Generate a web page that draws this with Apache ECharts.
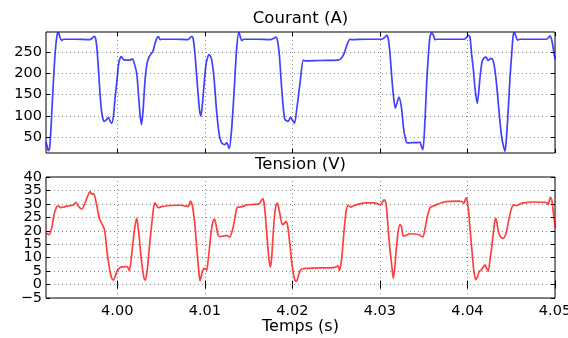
<!DOCTYPE html>
<html><head><meta charset="utf-8">
<script src="https://cdn.jsdelivr.net/npm/echarts@6/dist/echarts.min.js"></script>
<style>html,body{margin:0;padding:0;background:#fff}#c{width:568px;height:338px}</style>
</head><body><div id="c"></div>
<script>
// Courant (A): [temps (s), courant (A)]
const courant = [[3.99186,38],[3.99197,30],[3.99212,18],[3.99226,22],[3.99243,70],[3.99260,140],[3.99280,215],[3.99300,270],[3.99317,294],[3.99328,296],[3.99345,285],[3.99363,277],[3.99385,280],[3.99517,280],[3.99688,279],[3.99711,282],[3.99734,287],[3.99751,283],[3.99768,258],[3.99785,210],[3.99802,155],[3.99820,112],[3.99837,92],[3.99854,87],[3.99877,91],[3.99899,96],[3.99917,88],[3.99936,82],[3.99957,100],[3.99974,140],[3.99993,176],[4.00014,220],[4.00031,235],[4.00048,239],[4.00065,233],[4.00088,231],[4.00145,231],[4.00174,234],[4.00196,222],[4.00222,200],[4.00242,150],[4.00259,105],[4.00276,79],[4.00294,110],[4.00316,180],[4.00339,222],[4.00362,238],[4.00385,245],[4.00408,252],[4.00431,270],[4.00453,283],[4.00471,286],[4.00488,279],[4.00511,280],[4.00659,280],[4.00808,279],[4.00830,283],[4.00850,287],[4.00868,280],[4.00888,244],[4.00918,165],[4.00939,115],[4.00956,99],[4.00982,150],[4.01013,220],[4.01036,240],[4.01051,244],[4.01078,232],[4.01105,189],[4.01135,110],[4.01165,55],[4.01193,36],[4.01230,32],[4.01250,37],[4.01279,23],[4.01307,71],[4.01337,165],[4.01364,259],[4.01390,297],[4.01421,277],[4.01447,280],[4.01607,280],[4.01744,279],[4.01779,281],[4.01813,285],[4.01832,275],[4.01851,244],[4.01878,165],[4.01898,115],[4.01916,91],[4.01953,87],[4.01981,96],[4.02001,90],[4.02024,82],[4.02053,120],[4.02087,176],[4.02125,231],[4.02144,229],[4.02315,230],[4.02521,231],[4.02555,234],[4.02590,246],[4.02630,270],[4.02658,280],[4.02681,279],[4.02830,280],[4.03024,280],[4.03058,285],[4.03081,289],[4.03098,278],[4.03115,247],[4.03134,195],[4.03153,150],[4.03176,118],[4.03195,130],[4.03218,144],[4.03249,115],[4.03269,72],[4.03290,48],[4.03313,36],[4.03366,37],[4.03438,37],[4.03458,38],[4.03475,28],[4.03492,20],[4.03515,90],[4.03534,176],[4.03553,240],[4.03572,286],[4.03591,295],[4.03610,290],[4.03629,279],[4.03652,280],[4.03800,280],[4.03960,280],[4.03989,284],[4.04012,289],[4.04029,285],[4.04048,244],[4.04067,210],[4.04086,165],[4.04112,129],[4.04143,189],[4.04166,226],[4.04189,236],[4.04212,238],[4.04238,230],[4.04269,235],[4.04292,230],[4.04314,208],[4.04337,165],[4.04354,125],[4.04372,85],[4.04391,50],[4.04412,28],[4.04429,16],[4.04446,50],[4.04466,115],[4.04486,190],[4.04505,244],[4.04520,285],[4.04535,296],[4.04554,287],[4.04572,278],[4.04600,280],[4.04771,280],[4.04905,280],[4.04926,284],[4.04946,288],[4.04969,272],[4.04986,250],[4.05003,233]];

// Tension (V): [temps (s), tension (V)]
const tension = [[3.99186,19.2],[3.99220,18.6],[3.99251,21],[3.99277,25.9],[3.99308,29.0],[3.99326,29.2],[3.99353,28.6],[3.99403,29.0],[3.99497,29.6],[3.99528,30.6],[3.99554,29.2],[3.99593,28.1],[3.99623,29.6],[3.99648,31.8],[3.99669,33.4],[3.99688,34.6],[3.99708,33.6],[3.99726,33.8],[3.99745,32.6],[3.99772,28.4],[3.99797,24.5],[3.99822,22.8],[3.99848,21],[3.99865,18],[3.99882,12.5],[3.99899,8.5],[3.99917,5],[3.99934,2.6],[3.99954,1.6],[3.99974,2.8],[3.99991,4.5],[4.00014,5.8],[4.00042,6.5],[4.00088,6.6],[4.00114,6.7],[4.00137,5.2],[4.00156,8.5],[4.00176,14.7],[4.00199,21],[4.00222,24.7],[4.00236,22],[4.00254,16.5],[4.00271,10.5],[4.00290,5.5],[4.00305,2.5],[4.00320,1.6],[4.00339,4.5],[4.00356,10],[4.00374,16.5],[4.00393,22.2],[4.00411,27.5],[4.00427,30.4],[4.00448,29.5],[4.00468,28.6],[4.00507,29.0],[4.00602,29.4],[4.00716,29.5],[4.00793,29.2],[4.00811,29.0],[4.00834,31.0],[4.00857,29.5],[4.00873,26],[4.00888,22],[4.00902,16],[4.00916,10.5],[4.00931,5],[4.00945,1.4],[4.00956,2.5],[4.00971,4.8],[4.00994,6.0],[4.01021,5.4],[4.01036,8.5],[4.01053,13.5],[4.01070,19],[4.01087,22.5],[4.01110,24.3],[4.01127,22.5],[4.01150,18.5],[4.01173,17.8],[4.01207,18.0],[4.01250,18.3],[4.01282,17.6],[4.01305,19],[4.01325,21.5],[4.01345,25],[4.01364,28.4],[4.01384,28.8],[4.01424,29.0],[4.01478,29.6],[4.01550,29.8],[4.01611,29.9],[4.01630,30.3],[4.01661,32.0],[4.01676,30.5],[4.01689,26.5],[4.01704,20.5],[4.01721,13.5],[4.01736,8.5],[4.01750,6.5],[4.01764,10],[4.01779,18],[4.01796,25.5],[4.01813,29.5],[4.01828,30.3],[4.01844,28.5],[4.01862,25.5],[4.01887,22.3],[4.01910,22.8],[4.01929,23.5],[4.01948,21.5],[4.01965,17],[4.01981,12],[4.01998,7],[4.02015,3.5],[4.02036,1.3],[4.02053,1.4],[4.02070,3.5],[4.02093,5.4],[4.02121,5.9],[4.02155,6.0],[4.02315,6.2],[4.02467,6.3],[4.02504,6.6],[4.02521,7.0],[4.02538,5.3],[4.02555,7.5],[4.02570,12],[4.02584,17.5],[4.02601,23.5],[4.02618,28],[4.02639,29.5],[4.02664,28.8],[4.02692,29.2],[4.02753,29.9],[4.02849,30.4],[4.02924,30.4],[4.02978,30.0],[4.03007,29.7],[4.03027,30.5],[4.03047,31.5],[4.03064,30.8],[4.03077,28.3],[4.03096,20],[4.03115,13],[4.03134,7.5],[4.03153,2.3],[4.03169,6],[4.03187,13],[4.03207,19.5],[4.03229,22.3],[4.03247,21.5],[4.03267,18.0],[4.03306,18.4],[4.03344,18.9],[4.03401,18.8],[4.03446,18.5],[4.03489,17.7],[4.03511,20],[4.03534,24],[4.03555,27],[4.03578,28.8],[4.03618,29.3],[4.03663,29.9],[4.03724,30.6],[4.03800,30.9],[4.03892,31.0],[4.03943,30.8],[4.03958,30.2],[4.03974,31.5],[4.03987,32.2],[4.04000,30.5],[4.04014,27],[4.04029,21],[4.04048,14],[4.04065,7.5],[4.04080,3.5],[4.04097,1.8],[4.04115,3.0],[4.04135,4.8],[4.04160,5.5],[4.04181,6.5],[4.04200,7.3],[4.04217,6.2],[4.04238,4.9],[4.04257,9],[4.04277,14],[4.04297,19.5],[4.04320,24.6],[4.04337,23],[4.04354,19.5],[4.04377,17.8],[4.04406,17.2],[4.04429,18],[4.04448,20],[4.04469,23.5],[4.04486,26.2],[4.04505,28.5],[4.04524,29.6],[4.04562,29.4],[4.04620,30.3],[4.04691,30.6],[4.04771,30.7],[4.04905,30.5],[4.04923,29.7],[4.04946,32.4],[4.04962,31.6],[4.04980,27],[4.05003,21]];

const xTicks = [4.00, 4.01, 4.02, 4.03, 4.04, 4.05];
const courantTicks = [50, 100, 150, 200, 250];
const tensionTicks = [-5, 0, 5, 10, 15, 20, 25, 30, 35, 40];
const titleCourant = 'Courant (A)';
const titleTension = 'Tension (V)';
const xLabel = 'Temps (s)';
const xRange = [3.99186, 4.05];
const courantRange = [12.4, 297];
const tensionRange = [-5, 40];

const FONT = 'DejaVu Sans';
const GRID_LEFT = 46, GRID_W = 509;
const tickStyle = { inside: true, length: 4, lineStyle: { color: '#000', width: 1 } };
const gridLine = { show: true, lineStyle: { color: '#666', width: 1, type: [1, 3], opacity: 0.8 } };
const minus = v => String(v).replace('-', '\u2212');

function xAx(grid, pos, labels) {
  return {
    type: 'value', gridIndex: grid, position: pos, min: xRange[0], max: xRange[1],
    axisLine: { show: false },
    axisTick: Object.assign({ customValues: xTicks }, tickStyle),
    axisLabel: { show: labels, customValues: xTicks, formatter: v => v.toFixed(2), color: '#000',
      fontFamily: FONT, fontSize: 14.5, margin: 6, hideOverlap: false, showMinLabel: true, showMaxLabel: true },
    splitLine: pos === 'bottom' ? gridLine : { show: false }
  };
}
// ticks: where tick marks/grid lines go; labels: which of them carry a label on this axis
function yAx(grid, pos, range, ticks, labels, showTicks) {
  return {
    type: 'value', gridIndex: grid, position: pos, offset: 0, min: range[0], max: range[1],
    axisLine: { show: false },
    axisTick: Object.assign({ show: showTicks, customValues: ticks }, tickStyle),
    axisLabel: { show: !!labels, customValues: labels || ticks, formatter: minus, color: '#000',
      fontFamily: FONT, fontSize: 14.5, margin: 4, hideOverlap: false, showMinLabel: true, showMaxLabel: true },
    splitLine: (pos === 'left' && showTicks) ? gridLine : { show: false }
  };
}
const tensionEven = tensionTicks.filter((v, i) => i % 2 === 0);
const tensionOdd = tensionTicks.filter((v, i) => i % 2 === 1);

const chart = echarts.init(document.getElementById('c'), null, { renderer: 'canvas' });
chart.setOption({
  animation: false,
  backgroundColor: '#fff',
  grid: [
    { left: GRID_LEFT, top: 32, width: GRID_W, height: 121, show: true, borderColor: '#000', borderWidth: 1, outerBoundsMode: 'none' },
    { left: GRID_LEFT, top: 177, width: GRID_W, height: 121, show: true, borderColor: '#000', borderWidth: 1, outerBoundsMode: 'none' }
  ],
  xAxis: [xAx(0, 'bottom', false), xAx(0, 'top', false), xAx(1, 'bottom', true), xAx(1, 'top', false)],
  yAxis: [
    yAx(0, 'left', courantRange, courantTicks, courantTicks, true),
    yAx(0, 'right', courantRange, courantTicks, null, true),
    yAx(1, 'left', tensionRange, tensionTicks, tensionEven, true),
    yAx(1, 'right', tensionRange, tensionTicks, null, true),
    yAx(1, 'left', tensionRange, tensionTicks, tensionOdd, false)
  ],
  series: [
    { type: 'line', xAxisIndex: 0, yAxisIndex: 0, data: courant, showSymbol: false, smooth: 0.25,
      lineStyle: { color: 'rgba(0,0,255,0.75)', width: 1.7 }, z: 3 },
    { type: 'line', xAxisIndex: 2, yAxisIndex: 2, data: tension, showSymbol: false, smooth: 0.25,
      lineStyle: { color: 'rgba(255,0,0,0.75)', width: 1.7 }, z: 3 }
  ],
  graphic: [
    { type: 'text', x: 300.5, y: 19, style: { text: titleCourant, font: '16.5px "DejaVu Sans"', fill: '#000', textAlign: 'center', textVerticalAlign: 'middle', verticalAlign: 'middle' } },
    { type: 'text', x: 300.5, y: 165, style: { text: titleTension, font: '16.5px "DejaVu Sans"', fill: '#000', textAlign: 'center', textVerticalAlign: 'middle', verticalAlign: 'middle' } },
    { type: 'text', x: 300.5, y: 327, style: { text: xLabel, font: '16px "DejaVu Sans"', fill: '#000', textAlign: 'center', textVerticalAlign: 'middle', verticalAlign: 'middle' } }
  ]
});
</script></body></html>
